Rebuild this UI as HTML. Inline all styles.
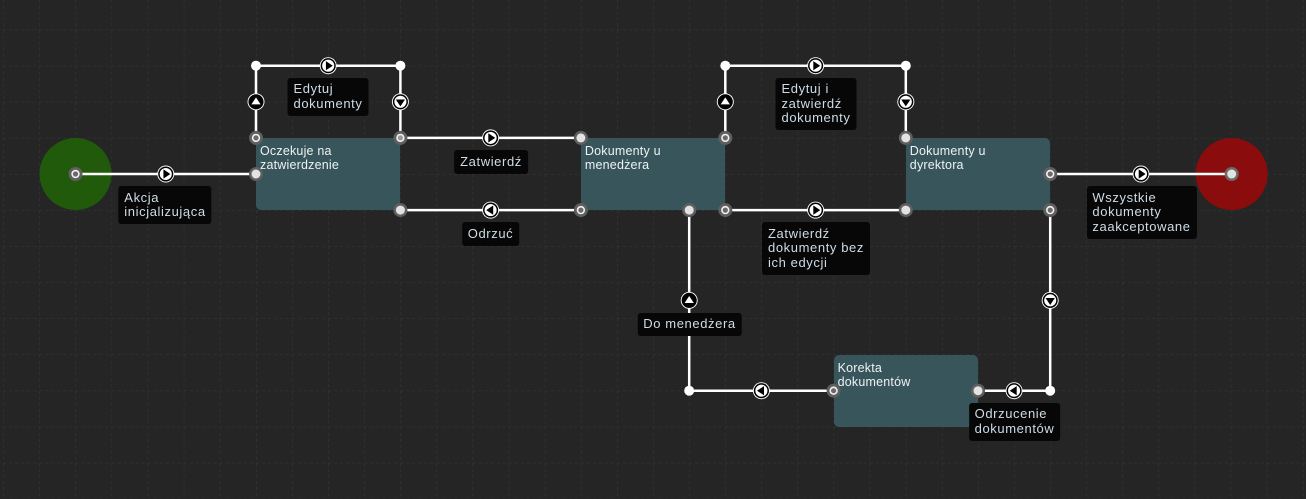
<!DOCTYPE html>
<html>
<head>
<meta charset="utf-8">
<style>
  html,body{margin:0;padding:0;}
  body{width:1306px;height:499px;overflow:hidden;background:#252525;position:relative;font-family:"Liberation Sans",Arial,sans-serif;}
  svg{position:absolute;left:0;top:0;}
  .lbl{position:absolute;transform:translateX(-50%);background:#070707;color:#cfdce6;font-size:13px;letter-spacing:0.6px;line-height:14.5px;padding:4.5px 6px;border-radius:3px;white-space:nowrap;}
  .box{position:absolute;background:#38555b;border-radius:5px;color:#eef2f4;font-size:12.5px;letter-spacing:0.2px;line-height:14px;padding:6px 4px;box-sizing:border-box;}
</style>
</head>
<body>
<svg width="1306" height="499" viewBox="0 0 1306 499">
  <defs>
    <pattern id="grid" x="3.3" y="29.6" width="36.1" height="36.1" patternUnits="userSpaceOnUse">
      <line x1="0" y1="0" x2="36.1" y2="0" stroke="#393939" stroke-width="1" stroke-dasharray="3,3"/>
      <line x1="0" y1="0" x2="0" y2="36.1" stroke="#393939" stroke-width="1" stroke-dasharray="3,3"/>
    </pattern>
  </defs>
  <rect x="0" y="0" width="1306" height="499" fill="#252525"/>
  <rect x="0" y="0" width="1306" height="499" fill="url(#grid)"/>

  <!-- start / end -->
  <circle cx="75.5" cy="174" r="36" fill="#215a0b"/>
  <circle cx="1231.7" cy="174" r="36" fill="#8a0c0c"/>
</svg>

<div class="box" style="left:256px;top:138px;width:144.4px;height:72px;">Oczekuje na<br>zatwierdzenie</div>
<div class="box" style="left:580.9px;top:138px;width:144.4px;height:72px;">Dokumenty u<br>menedżera</div>
<div class="box" style="left:905.8px;top:138px;width:144.4px;height:72px;">Dokumenty u<br>dyrektora</div>
<div class="box" style="left:833.6px;top:354.5px;width:144.4px;height:72px;">Korekta<br>dokumentów</div>

<svg width="1306" height="499" viewBox="0 0 1306 499">
  <g stroke="#ffffff" stroke-width="2.5" fill="none" stroke-linejoin="miter">
    <line x1="75.5" y1="174" x2="256" y2="174"/>
    <polyline points="256,137.9 256,65.7 400.4,65.7 400.4,137.9"/>
    <line x1="400.4" y1="137.9" x2="580.9" y2="137.9"/>
    <line x1="580.9" y1="210.1" x2="400.4" y2="210.1"/>
    <polyline points="725.3,137.9 725.3,65.7 905.8,65.7 905.8,137.9"/>
    <line x1="725.3" y1="210.1" x2="905.8" y2="210.1"/>
    <line x1="1050.2" y1="174" x2="1231.7" y2="174"/>
    <polyline points="1050.2,210.1 1050.2,390.7 978,390.7"/>
    <polyline points="833.6,390.7 689.2,390.7 689.2,210.1"/>
  </g>

  <!-- corner dots -->
  <g fill="#ffffff">
    <circle cx="256" cy="65.7" r="5"/>
    <circle cx="400.4" cy="65.7" r="5"/>
    <circle cx="725.3" cy="65.7" r="5"/>
    <circle cx="905.8" cy="65.7" r="5"/>
    <circle cx="1050.2" cy="390.7" r="5"/>
    <circle cx="689.2" cy="390.7" r="5"/>
  </g>

  <!-- source ports (ring) -->
  <g>
    <g transform="translate(75.5,174)"><circle r="7" fill="#5f5f5f"/><circle r="3.4" fill="#6a6a6a" stroke="#f0f0f0" stroke-width="1.6"/></g>
    <g transform="translate(256,137.9)"><circle r="7" fill="#5f5f5f"/><circle r="3.4" fill="#6a6a6a" stroke="#f0f0f0" stroke-width="1.6"/></g>
    <g transform="translate(400.4,137.9)"><circle r="7" fill="#5f5f5f"/><circle r="3.4" fill="#9a9a9a" stroke="#f0f0f0" stroke-width="1.6"/></g>
    <g transform="translate(580.9,210.1)"><circle r="7" fill="#5f5f5f"/><circle r="3.4" fill="#6a6a6a" stroke="#f0f0f0" stroke-width="1.6"/></g>
    <g transform="translate(725.3,137.9)"><circle r="7" fill="#5f5f5f"/><circle r="3.4" fill="#6a6a6a" stroke="#f0f0f0" stroke-width="1.6"/></g>
    <g transform="translate(725.3,210.1)"><circle r="7" fill="#5f5f5f"/><circle r="3.4" fill="#6a6a6a" stroke="#f0f0f0" stroke-width="1.6"/></g>
    <g transform="translate(1050.2,174)"><circle r="7" fill="#5f5f5f"/><circle r="3.4" fill="#6a6a6a" stroke="#f0f0f0" stroke-width="1.6"/></g>
    <g transform="translate(1050.2,210.1)"><circle r="7" fill="#5f5f5f"/><circle r="3.4" fill="#6a6a6a" stroke="#f0f0f0" stroke-width="1.6"/></g>
    <g transform="translate(833.6,390.7)"><circle r="7" fill="#5f5f5f"/><circle r="3.4" fill="#6a6a6a" stroke="#f0f0f0" stroke-width="1.6"/></g>
  </g>

  <!-- target ports (filled) -->
  <g>
    <g transform="translate(256,174)"><circle r="7" fill="#5f5f5f"/><circle r="4.5" fill="#e2e2e2"/></g>
    <g transform="translate(400.4,210.1)"><circle r="7" fill="#5f5f5f"/><circle r="4.5" fill="#e2e2e2"/></g>
    <g transform="translate(580.9,137.9)"><circle r="7" fill="#5f5f5f"/><circle r="4.5" fill="#e2e2e2"/></g>
    <g transform="translate(905.8,137.9)"><circle r="7" fill="#5f5f5f"/><circle r="4.5" fill="#e2e2e2"/></g>
    <g transform="translate(905.8,210.1)"><circle r="7" fill="#5f5f5f"/><circle r="4.5" fill="#e2e2e2"/></g>
    <g transform="translate(1231.7,174)"><circle r="7" fill="#6a6a6a"/><circle r="4.5" fill="#e2e2e2"/></g>
    <g transform="translate(978,390.7)"><circle r="7" fill="#5f5f5f"/><circle r="4.5" fill="#e2e2e2"/></g>
    <g transform="translate(689.2,210.1)"><circle r="7" fill="#5f5f5f"/><circle r="4.5" fill="#e2e2e2"/></g>
  </g>

  <!-- markers -->
  <g>
    <!-- right -->
    <g transform="translate(165.75,174)"><circle r="8.5" fill="#fff"/><circle r="6.8" fill="#fff" stroke="#000" stroke-width="1.5"/><path d="M-2.3,-4.6 L4.6,0 L-2.3,4.6Z" fill="#000"/></g>
    <g transform="translate(328.2,65.7)"><circle r="8.5" fill="#fff"/><circle r="6.8" fill="#fff" stroke="#000" stroke-width="1.5"/><path d="M-2.3,-4.6 L4.6,0 L-2.3,4.6Z" fill="#000"/></g>
    <g transform="translate(490.6,137.9)"><circle r="8.5" fill="#fff"/><circle r="6.8" fill="#fff" stroke="#000" stroke-width="1.5"/><path d="M-2.3,-4.6 L4.6,0 L-2.3,4.6Z" fill="#000"/></g>
    <g transform="translate(815.6,65.7)"><circle r="8.5" fill="#fff"/><circle r="6.8" fill="#fff" stroke="#000" stroke-width="1.5"/><path d="M-2.3,-4.6 L4.6,0 L-2.3,4.6Z" fill="#000"/></g>
    <g transform="translate(815.6,210.1)"><circle r="8.5" fill="#fff"/><circle r="6.8" fill="#fff" stroke="#000" stroke-width="1.5"/><path d="M-2.3,-4.6 L4.6,0 L-2.3,4.6Z" fill="#000"/></g>
    <g transform="translate(1141,174)"><circle r="8.5" fill="#fff"/><circle r="6.8" fill="#fff" stroke="#000" stroke-width="1.5"/><path d="M-2.3,-4.6 L4.6,0 L-2.3,4.6Z" fill="#000"/></g>
    <!-- down -->
    <g transform="translate(400.4,101.8)"><circle r="8.5" fill="#fff"/><circle r="6.8" fill="#fff" stroke="#000" stroke-width="1.5"/><path d="M-4.6,-2.3 L4.6,-2.3 L0,4.6Z" fill="#000"/></g>
    <g transform="translate(905.8,101.8)"><circle r="8.5" fill="#fff"/><circle r="6.8" fill="#fff" stroke="#000" stroke-width="1.5"/><path d="M-4.6,-2.3 L4.6,-2.3 L0,4.6Z" fill="#000"/></g>
    <g transform="translate(1050.2,300.35)"><circle r="8.5" fill="#fff"/><circle r="6.8" fill="#fff" stroke="#000" stroke-width="1.5"/><path d="M-4.6,-2.3 L4.6,-2.3 L0,4.6Z" fill="#000"/></g>
    <!-- up -->
    <g transform="translate(256,101.8)"><circle r="8.5" fill="#fff"/><circle r="6.8" fill="#000" stroke="#000" stroke-width="1.5"/><path d="M-4.6,2.6 L4.6,2.6 L0,-4.4Z" fill="#fff"/></g>
    <g transform="translate(725.3,101.8)"><circle r="8.5" fill="#fff"/><circle r="6.8" fill="#000" stroke="#000" stroke-width="1.5"/><path d="M-4.6,2.6 L4.6,2.6 L0,-4.4Z" fill="#fff"/></g>
    <g transform="translate(689.2,300.35)"><circle r="8.5" fill="#fff"/><circle r="6.8" fill="#000" stroke="#000" stroke-width="1.5"/><path d="M-4.6,2.6 L4.6,2.6 L0,-4.4Z" fill="#fff"/></g>
    <!-- left -->
    <g transform="translate(490.6,210.1)"><circle r="8.5" fill="#fff"/><circle r="6.8" fill="#fff" stroke="#000" stroke-width="1.5"/><path d="M2.6,-4.6 L2.6,4.6 L-4.4,0Z" fill="#000"/></g>
    <g transform="translate(1014.1,390.7)"><circle r="8.5" fill="#fff"/><circle r="6.8" fill="#fff" stroke="#000" stroke-width="1.5"/><path d="M2.6,-4.6 L2.6,4.6 L-4.4,0Z" fill="#000"/></g>
    <g transform="translate(761.4,390.7)"><circle r="8.5" fill="#fff"/><circle r="6.8" fill="#fff" stroke="#000" stroke-width="1.5"/><path d="M2.6,-4.6 L2.6,4.6 L-4.4,0Z" fill="#000"/></g>
  </g>
</svg>

<div class="lbl" style="left:165px;top:186px;">Akcja<br>inicjalizująca</div>
<div class="lbl" style="left:328px;top:77.5px;">Edytuj<br>dokumenty</div>
<div class="lbl" style="left:491px;top:150px;">Zatwierdź</div>
<div class="lbl" style="left:490.5px;top:222px;">Odrzuć</div>
<div class="lbl" style="left:816px;top:77.5px;">Edytuj i<br>zatwierdź<br>dokumenty</div>
<div class="lbl" style="left:816px;top:222px;">Zatwierdź<br>dokumenty bez<br>ich edycji</div>
<div class="lbl" style="left:1141.5px;top:186px;">Wszystkie<br>dokumenty<br>zaakceptowane</div>
<div class="lbl" style="left:689.5px;top:312.5px;">Do menedżera</div>
<div class="lbl" style="left:1014.5px;top:402.5px;">Odrzucenie<br>dokumentów</div>
</body>
</html>
